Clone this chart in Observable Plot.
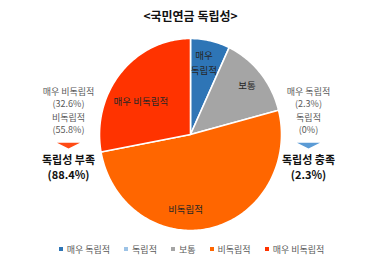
<!DOCTYPE html>
<html><head><meta charset="utf-8">
<script src="https://cdn.jsdelivr.net/npm/d3@7"></script>
<script src="https://cdn.jsdelivr.net/npm/@observablehq/plot@0.6"></script>
<style>
html,body{margin:0;padding:0;background:#fff;}
body{width:379px;font-family:"Noto Sans CJK KR","Noto Sans",sans-serif;}
#legend{display:flex;justify-content:center;align-items:center;height:26px;font-size:9px;color:#595959;padding-left:4px;box-sizing:border-box;}
#legend .item{display:flex;align-items:center;margin:0 7px;white-space:nowrap;}
#legend .sw{width:4px;height:4px;margin-right:4px;}
</style></head><body><div id="chart"></div><div id="legend"></div>
<script>
// ---- data ----
const title = "<국민연금 독립성>";
const categories = ["매우 독립적", "독립적", "보통", "비독립적", "매우 비독립적"];
const sliceValues = [3, 0, 6, 22, 12];            // pie slice sizes as drawn
const labelPercents = [2.3, 0, 9.3, 55.8, 32.6];  // percentages printed in the annotations
const sliceLabelTexts = ["매우\n독립적", "독립적", "보통", "비독립적", "매우 비독립적"];
const groupTitles = ["독립성 부족", "독립성 충족"];
const groupPercents = [88.4, 2.3];
const groupMembers = [[4, 3], [0, 1]];
const colors = ["#2E75B6", "#9DC3E6", "#A5A5A5", "#FF6600", "#FF3300"];
const groupColors = ["#FF4A14", "#5B9BD5"];

// ---- layout ----
const W = 379, H = 236;
const cx = 190, cy = 134, rx = 91, ry = 96;
const labelPlace = [{a: 11, r: 0.77}, null, {a: 50, r: 0.81}, {a: 184, r: 0.77}, {a: 303, r: 0.65}];
const groupX = [68, 308];

const px = (a, r) => cx + rx * r * Math.sin(a);
const py = (a, r) => cy - ry * r * Math.cos(a);

const arcs = d3.pie().sort(null).value(d => d.value)
  (categories.map((c, i) => ({cat: c, value: sliceValues[i], i})));

const piePts = [];
for (const a of arcs) {
  const span = a.endAngle - a.startAngle;
  if (span <= 0) continue;
  piePts.push({cat: a.data.cat, x: cx, y: cy});
  const n = Math.max(2, Math.ceil(span / 0.02));
  for (let k = 0; k <= n; k++) {
    const t = a.startAngle + span * k / n;
    piePts.push({cat: a.data.cat, x: px(t, 1), y: py(t, 1)});
  }
}

const sliceLabels = arcs.filter(a => a.value > 0).map(a => {
  const p = labelPlace[a.data.i];
  const ang = p ? p.a * Math.PI / 180 : (a.startAngle + a.endAngle) / 2;
  const r = p ? p.r : 0.7;
  return {text: sliceLabelTexts[a.data.i], x: px(ang, r), y: py(ang, r)};
});

const sideRows = [];
groupMembers.forEach((members, g) => {
  members.forEach((i, j) => {
    sideRows.push({x: groupX[g], y: 97 + j * 25.5, text: `${categories[i]}\n(${labelPercents[i]}%)`});
  });
});
const groupRows = groupTitles.map((t, g) => ({x: groupX[g], title: t, pct: `(${groupPercents[g]}%)`, color: groupColors[g]}));

const downTri = {draw(ctx) { ctx.moveTo(-11.5, -2.8); ctx.lineTo(11.5, -2.8); ctx.lineTo(0, 3); ctx.closePath(); }};

const chart = Plot.plot({
  width: W, height: H, margin: 0,
  style: {fontFamily: '"Noto Sans CJK KR","Noto Sans",sans-serif', background: "#fff"},
  x: {domain: [0, W], range: [0, W], axis: null},
  y: {domain: [0, H], range: [0, H], axis: null},
  color: {domain: categories, range: colors},
  marks: [
    Plot.line(piePts, {x: "x", y: "y", z: "cat", fill: "cat", stroke: "white", strokeWidth: 1.6, curve: "linear-closed", strokeLinejoin: "round"}),
    Plot.text(sliceLabels, {x: "x", y: "y", text: "text", fill: "#262626", fontSize: 9.5, lineHeight: 1.5}),
    Plot.text([title], {x: () => 190, y: () => 17, text: d => d, fontSize: 12, fontWeight: "bold", fill: "#111"}),
    Plot.text(sideRows, {x: "x", y: "y", text: "text", fill: "#595959", fontSize: 9, lineHeight: 1.34}),
    Plot.dot(groupRows, {x: "x", y: () => 145, symbol: downTri, fill: "color", r: 5}),
    Plot.text(groupRows, {x: "x", y: () => 159.5, text: "title", fill: "#111", fontSize: 11, fontWeight: "bold"}),
    Plot.text(groupRows, {x: "x", y: () => 174.5, text: "pct", fill: "#111", fontSize: 11, fontWeight: "bold"})
  ]
});
document.getElementById("chart").appendChild(chart);

const legend = document.getElementById("legend");
categories.forEach((c, i) => {
  const it = document.createElement("div"); it.className = "item";
  const sw = document.createElement("span"); sw.className = "sw"; sw.style.background = colors[i];
  const tx = document.createElement("span"); tx.textContent = c;
  it.appendChild(sw); it.appendChild(tx); legend.appendChild(it);
});
</script></body></html>
